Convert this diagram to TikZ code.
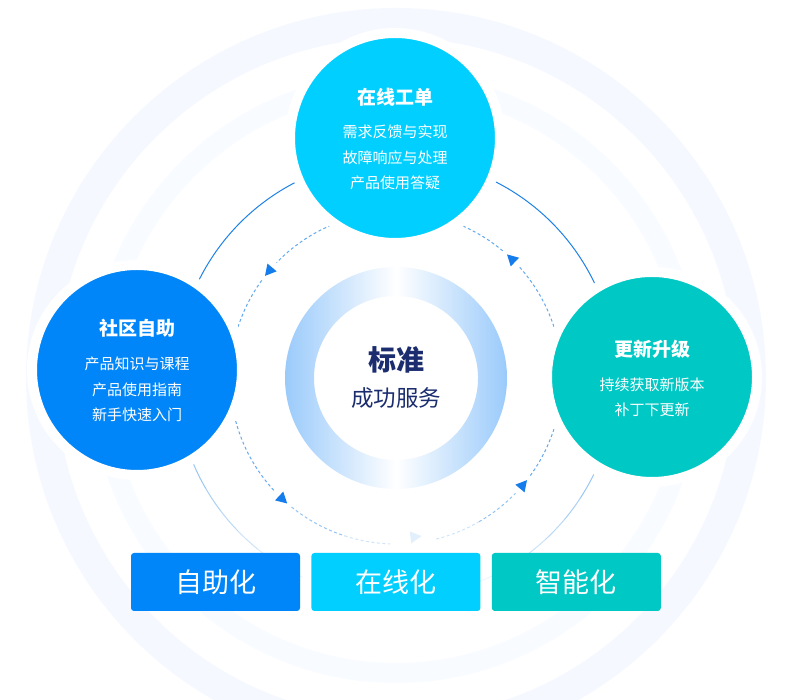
\documentclass[tikz,border=0pt]{standalone}
\usepackage{fontspec}
\setmainfont{Noto Sans CJK SC}
\definecolor{OnlineCyan}{RGB}{0,207,255}
\definecolor{SelfBlue}{RGB}{0,134,248}
\definecolor{SmartTeal}{RGB}{0,200,196}
\definecolor{CoreNavy}{RGB}{27,45,110}
\definecolor{LoopBlue}{RGB}{30,130,230}
\definecolor{DashBlue}{RGB}{100,170,240}
\definecolor{TipBlue}{RGB}{20,125,235}
\definecolor{RingBlue}{RGB}{140,195,250}
\definecolor{BandBlue}{RGB}{245,249,255}
\usetikzlibrary{calc,positioning}

\begin{document}
\begin{tikzpicture}[x=1pt,y=1pt,
  bubble/.style={circle,minimum size=210pt,inner sep=0pt,draw=white,line width=10pt},
  bubbletitle/.style={white,font=\bfseries\fontsize{19}{19}\selectfont,anchor=base,inner sep=0pt},
  bubbletext/.style={white,font=\fontsize{15}{25.5}\selectfont,align=center,anchor=base,inner sep=0pt},
  tag/.style={rectangle,rounded corners=3pt,minimum width=169pt,minimum height=58pt,inner sep=0pt,text=white,font=\fontsize{27}{27}\selectfont},
  loop/.style={LoopBlue,line width=1pt},
  flow/.style={DashBlue,line width=1pt,dash pattern=on 3pt off 2.5pt}]
  \fill[white] (0,0) rectangle (789,700);
  \useasboundingbox (0,0) rectangle (789,700);
  \coordinate (core) at (396,322);
  % faint rings behind everything
  \draw[BandBlue,line width=30pt] (core) circle[radius=355pt];
  \draw[BandBlue!70,line width=20pt] (core) circle[radius=295pt];
  % centre ring
  \shade[even odd rule,rotate around={-30:(core)},left color=RingBlue,right color=RingBlue,middle color=white]
    (core) circle[radius=111pt] (core) circle[radius=82pt];
  \node[font=\bfseries\fontsize{28}{28}\selectfont,text=CoreNavy,anchor=base,inner sep=0pt] (core-title) at ([yshift=7.4pt]core) {标准};
  \node[font=\fontsize{22.5}{22.5}\selectfont,text=CoreNavy,anchor=base,inner sep=0pt] (core-text) at ([yshift=-28.6pt]core) {成功服务};
  % outer loop
  \draw[loop] (core) ++(117:220pt) arc[start angle=117,end angle=154,radius=220pt];
  \draw[loop] (core) ++(25:220pt) arc[start angle=25,end angle=63,radius=220pt];
  \foreach \i in {0,...,5} {
    \draw[loop,draw opacity={0.45-0.075*\i}] (core) ++({203+7*\i}:220pt) arc[start angle={203+7*\i},end angle={210+7*\i},radius=220pt];
    \draw[loop,draw opacity={0.45-0.075*\i}] (core) ++({-26-7*\i}:220pt) arc[start angle={-26-7*\i},end angle={-33-7*\i},radius=220pt];
  }
  % inner dashed cycle
  \foreach \s/\e/\o in {113/136/1,144/163/1,18/42/1,50/66/1,195/223/1,231/252/0.7,252/268/0.3,284/300/0.3,300/316/0.7,324/342/1} {
    \draw[flow,draw opacity=\o] (core) ++(\s:166pt) arc[start angle=\s,end angle=\e,radius=166pt];
  }
  \foreach \a in {140,46,227,320} {
    \fill[TipBlue,shift={($(core)+(\a:166pt)$)},rotate=\a+90] (6pt,0) -- (-5pt,6pt) -- (-5pt,-6pt) -- cycle;
  }
  \fill[TipBlue,opacity=0.12,shift={($(core)+(277:160pt)$)},rotate=7] (6pt,0) -- (-5pt,6pt) -- (-5pt,-6pt) -- cycle;
  % the three service circles
  \node[bubble,fill=OnlineCyan] (gongdan) at (395,562) {};
  \node[bubbletitle] (gongdan-title) at ([yshift=33.8pt]gongdan.center) {在线工单};
  \node[bubbletext] (gongdan-text) at ([yshift=-50.7pt]gongdan.center) {需求反馈与实现\\故障响应与处理\\产品使用答疑};
  \node[bubble,fill=SelfBlue] (shequ) at (137,330) {};
  \node[bubbletitle] (shequ-title) at ([yshift=34.8pt]shequ.center) {社区自助};
  \node[bubbletext] (shequ-text) at ([yshift=-50.7pt]shequ.center) {产品知识与课程\\产品使用指南\\新手快速入门};
  \node[bubble,fill=SmartTeal] (shengji) at (652,323) {};
  \node[bubbletitle] (shengji-title) at ([yshift=20.8pt]shengji.center) {更新升级};
  \node[bubbletext] (shengji-text) at ([yshift=-38.7pt]shengji.center) {持续获取新版本\\补丁下更新};
  % bottom tags
  \node[tag,fill=SelfBlue] (zizhu) at (215.5,118) {自助化};
  \node[tag,fill=OnlineCyan,right=11pt of zizhu] (zaixian) {在线化};
  \node[tag,fill=SmartTeal,right=11pt of zaixian] (zhineng) {智能化};
\end{tikzpicture}
\end{document}
